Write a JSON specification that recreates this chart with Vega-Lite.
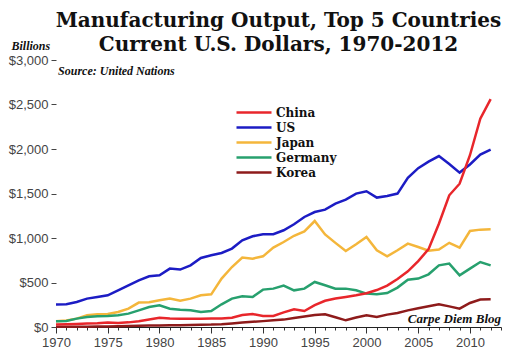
{
  "$schema": "https://vega.github.io/schema/vega-lite/v6.json",
  "width": 445,
  "height": 267,
  "autosize": {"type": "none"},
  "padding": {"left": 56, "top": 60, "right": 12, "bottom": 35},
  "background": "white",
  "config": {
    "view": {"stroke": null},
    "axisX": {
      "title": null,
      "tickCount": 43,
      "labelExpr": "datum.value % 5 === 0 ? '' + datum.value : ''",
      "labelOverlap": false,
      "labelFlush": false,
      "labelFont": "Liberation Sans",
      "labelFontSize": 13,
      "labelColor": "#444",
      "labelPadding": 3,
      "tickSize": 4,
      "tickColor": "#333",
      "tickWidth": 1,
      "domainColor": "#222",
      "domainWidth": 1.2,
      "grid": false
    },
    "axisY": {
      "titleAngle": 0,
      "titleFont": "Liberation Serif",
      "titleFontStyle": "italic",
      "titleFontWeight": "bold",
      "titleFontSize": 12,
      "titleColor": "#111",
      "titleAlign": "left",
      "titleBaseline": "alphabetic",
      "titleX": -45,
      "titleY": -11,
      "tickCount": 6,
      "labelFont": "Liberation Sans",
      "labelFontSize": 13,
      "labelColor": "#444",
      "labelPadding": 3,
      "tickSize": 5,
      "tickColor": "#444",
      "domain": false,
      "grid": false
    }
  },
  "title": {
    "text": ["Manufacturing Output, Top 5 Countries", "Current U.S. Dollars, 1970-2012"],
    "font": "DejaVu Serif",
    "fontWeight": "bold",
    "fontSize": 20,
    "lineHeight": 24,
    "color": "#111",
    "anchor": "middle",
    "frame": "group",
    "offset": 8,
    "dy": 24
  },
  "datasets": {
    "mfg": [
      {"year": 1970, "country": "US", "value": 252}, {"year": 1971, "country": "US", "value": 256}, {"year": 1972, "country": "US", "value": 281}, {"year": 1973, "country": "US", "value": 319}, {"year": 1974, "country": "US", "value": 337}, {"year": 1975, "country": "US", "value": 356}, {"year": 1976, "country": "US", "value": 412}, {"year": 1977, "country": "US", "value": 469}, {"year": 1978, "country": "US", "value": 525}, {"year": 1979, "country": "US", "value": 570}, {"year": 1980, "country": "US", "value": 581}, {"year": 1981, "country": "US", "value": 656}, {"year": 1982, "country": "US", "value": 645}, {"year": 1983, "country": "US", "value": 693}, {"year": 1984, "country": "US", "value": 775}, {"year": 1985, "country": "US", "value": 806}, {"year": 1986, "country": "US", "value": 832}, {"year": 1987, "country": "US", "value": 881}, {"year": 1988, "country": "US", "value": 974}, {"year": 1989, "country": "US", "value": 1019}, {"year": 1990, "country": "US", "value": 1042}, {"year": 1991, "country": "US", "value": 1042}, {"year": 1992, "country": "US", "value": 1087}, {"year": 1993, "country": "US", "value": 1154}, {"year": 1994, "country": "US", "value": 1236}, {"year": 1995, "country": "US", "value": 1292}, {"year": 1996, "country": "US", "value": 1319}, {"year": 1997, "country": "US", "value": 1386}, {"year": 1998, "country": "US", "value": 1431}, {"year": 1999, "country": "US", "value": 1499}, {"year": 2000, "country": "US", "value": 1525}, {"year": 2001, "country": "US", "value": 1454}, {"year": 2002, "country": "US", "value": 1472}, {"year": 2003, "country": "US", "value": 1499}, {"year": 2004, "country": "US", "value": 1675}, {"year": 2005, "country": "US", "value": 1785}, {"year": 2006, "country": "US", "value": 1858}, {"year": 2007, "country": "US", "value": 1921}, {"year": 2008, "country": "US", "value": 1832}, {"year": 2009, "country": "US", "value": 1735}, {"year": 2010, "country": "US", "value": 1826}, {"year": 2011, "country": "US", "value": 1937}, {"year": 2012, "country": "US", "value": 1993},
      {"year": 1970, "country": "Japan", "value": 64}, {"year": 1971, "country": "Japan", "value": 72}, {"year": 1972, "country": "Japan", "value": 94}, {"year": 1973, "country": "Japan", "value": 131}, {"year": 1974, "country": "Japan", "value": 143}, {"year": 1975, "country": "Japan", "value": 146}, {"year": 1976, "country": "Japan", "value": 169}, {"year": 1977, "country": "Japan", "value": 206}, {"year": 1978, "country": "Japan", "value": 274}, {"year": 1979, "country": "Japan", "value": 277}, {"year": 1980, "country": "Japan", "value": 300}, {"year": 1981, "country": "Japan", "value": 319}, {"year": 1982, "country": "Japan", "value": 296}, {"year": 1983, "country": "Japan", "value": 319}, {"year": 1984, "country": "Japan", "value": 356}, {"year": 1985, "country": "Japan", "value": 367}, {"year": 1986, "country": "Japan", "value": 544}, {"year": 1987, "country": "Japan", "value": 674}, {"year": 1988, "country": "Japan", "value": 780}, {"year": 1989, "country": "Japan", "value": 768}, {"year": 1990, "country": "Japan", "value": 794}, {"year": 1991, "country": "Japan", "value": 892}, {"year": 1992, "country": "Japan", "value": 955}, {"year": 1993, "country": "Japan", "value": 1025}, {"year": 1994, "country": "Japan", "value": 1075}, {"year": 1995, "country": "Japan", "value": 1191}, {"year": 1996, "country": "Japan", "value": 1040}, {"year": 1997, "country": "Japan", "value": 945}, {"year": 1998, "country": "Japan", "value": 854}, {"year": 1999, "country": "Japan", "value": 930}, {"year": 2000, "country": "Japan", "value": 1011}, {"year": 2001, "country": "Japan", "value": 862}, {"year": 2002, "country": "Japan", "value": 794}, {"year": 2003, "country": "Japan", "value": 862}, {"year": 2004, "country": "Japan", "value": 937}, {"year": 2005, "country": "Japan", "value": 899}, {"year": 2006, "country": "Japan", "value": 858}, {"year": 2007, "country": "Japan", "value": 870}, {"year": 2008, "country": "Japan", "value": 946}, {"year": 2009, "country": "Japan", "value": 892}, {"year": 2010, "country": "Japan", "value": 1079}, {"year": 2011, "country": "Japan", "value": 1094}, {"year": 2012, "country": "Japan", "value": 1098},
      {"year": 1970, "country": "Germany", "value": 64}, {"year": 1971, "country": "Germany", "value": 67}, {"year": 1972, "country": "Germany", "value": 94}, {"year": 1973, "country": "Germany", "value": 112}, {"year": 1974, "country": "Germany", "value": 120}, {"year": 1975, "country": "Germany", "value": 124}, {"year": 1976, "country": "Germany", "value": 131}, {"year": 1977, "country": "Germany", "value": 150}, {"year": 1978, "country": "Germany", "value": 187}, {"year": 1979, "country": "Germany", "value": 225}, {"year": 1980, "country": "Germany", "value": 244}, {"year": 1981, "country": "Germany", "value": 206}, {"year": 1982, "country": "Germany", "value": 195}, {"year": 1983, "country": "Germany", "value": 187}, {"year": 1984, "country": "Germany", "value": 169}, {"year": 1985, "country": "Germany", "value": 180}, {"year": 1986, "country": "Germany", "value": 255}, {"year": 1987, "country": "Germany", "value": 319}, {"year": 1988, "country": "Germany", "value": 345}, {"year": 1989, "country": "Germany", "value": 337}, {"year": 1990, "country": "Germany", "value": 420}, {"year": 1991, "country": "Germany", "value": 431}, {"year": 1992, "country": "Germany", "value": 465}, {"year": 1993, "country": "Germany", "value": 412}, {"year": 1994, "country": "Germany", "value": 431}, {"year": 1995, "country": "Germany", "value": 506}, {"year": 1996, "country": "Germany", "value": 469}, {"year": 1997, "country": "Germany", "value": 431}, {"year": 1998, "country": "Germany", "value": 431}, {"year": 1999, "country": "Germany", "value": 412}, {"year": 2000, "country": "Germany", "value": 375}, {"year": 2001, "country": "Germany", "value": 367}, {"year": 2002, "country": "Germany", "value": 382}, {"year": 2003, "country": "Germany", "value": 443}, {"year": 2004, "country": "Germany", "value": 532}, {"year": 2005, "country": "Germany", "value": 544}, {"year": 2006, "country": "Germany", "value": 592}, {"year": 2007, "country": "Germany", "value": 693}, {"year": 2008, "country": "Germany", "value": 712}, {"year": 2009, "country": "Germany", "value": 581}, {"year": 2010, "country": "Germany", "value": 656}, {"year": 2011, "country": "Germany", "value": 730}, {"year": 2012, "country": "Germany", "value": 693},
      {"year": 1970, "country": "Korea", "value": 2}, {"year": 1971, "country": "Korea", "value": 3}, {"year": 1972, "country": "Korea", "value": 3}, {"year": 1973, "country": "Korea", "value": 4}, {"year": 1974, "country": "Korea", "value": 5}, {"year": 1975, "country": "Korea", "value": 6}, {"year": 1976, "country": "Korea", "value": 8}, {"year": 1977, "country": "Korea", "value": 10}, {"year": 1978, "country": "Korea", "value": 13}, {"year": 1979, "country": "Korea", "value": 16}, {"year": 1980, "country": "Korea", "value": 17}, {"year": 1981, "country": "Korea", "value": 19}, {"year": 1982, "country": "Korea", "value": 20}, {"year": 1983, "country": "Korea", "value": 22}, {"year": 1984, "country": "Korea", "value": 25}, {"year": 1985, "country": "Korea", "value": 27}, {"year": 1986, "country": "Korea", "value": 32}, {"year": 1987, "country": "Korea", "value": 40}, {"year": 1988, "country": "Korea", "value": 50}, {"year": 1989, "country": "Korea", "value": 58}, {"year": 1990, "country": "Korea", "value": 66}, {"year": 1991, "country": "Korea", "value": 76}, {"year": 1992, "country": "Korea", "value": 83}, {"year": 1993, "country": "Korea", "value": 100}, {"year": 1994, "country": "Korea", "value": 118}, {"year": 1995, "country": "Korea", "value": 135}, {"year": 1996, "country": "Korea", "value": 143}, {"year": 1997, "country": "Korea", "value": 110}, {"year": 1998, "country": "Korea", "value": 75}, {"year": 1999, "country": "Korea", "value": 106}, {"year": 2000, "country": "Korea", "value": 131}, {"year": 2001, "country": "Korea", "value": 112}, {"year": 2002, "country": "Korea", "value": 139}, {"year": 2003, "country": "Korea", "value": 157}, {"year": 2004, "country": "Korea", "value": 187}, {"year": 2005, "country": "Korea", "value": 210}, {"year": 2006, "country": "Korea", "value": 232}, {"year": 2007, "country": "Korea", "value": 255}, {"year": 2008, "country": "Korea", "value": 232}, {"year": 2009, "country": "Korea", "value": 206}, {"year": 2010, "country": "Korea", "value": 270}, {"year": 2011, "country": "Korea", "value": 308}, {"year": 2012, "country": "Korea", "value": 311},
      {"year": 1970, "country": "China", "value": 28}, {"year": 1971, "country": "China", "value": 30}, {"year": 1972, "country": "China", "value": 33}, {"year": 1973, "country": "China", "value": 38}, {"year": 1974, "country": "China", "value": 42}, {"year": 1975, "country": "China", "value": 50}, {"year": 1976, "country": "China", "value": 45}, {"year": 1977, "country": "China", "value": 52}, {"year": 1978, "country": "China", "value": 65}, {"year": 1979, "country": "China", "value": 85}, {"year": 1980, "country": "China", "value": 105}, {"year": 1981, "country": "China", "value": 95}, {"year": 1982, "country": "China", "value": 92}, {"year": 1983, "country": "China", "value": 92}, {"year": 1984, "country": "China", "value": 92}, {"year": 1985, "country": "China", "value": 95}, {"year": 1986, "country": "China", "value": 95}, {"year": 1987, "country": "China", "value": 105}, {"year": 1988, "country": "China", "value": 135}, {"year": 1989, "country": "China", "value": 145}, {"year": 1990, "country": "China", "value": 125}, {"year": 1991, "country": "China", "value": 125}, {"year": 1992, "country": "China", "value": 165}, {"year": 1993, "country": "China", "value": 200}, {"year": 1994, "country": "China", "value": 180}, {"year": 1995, "country": "China", "value": 245}, {"year": 1996, "country": "China", "value": 295}, {"year": 1997, "country": "China", "value": 320}, {"year": 1998, "country": "China", "value": 337}, {"year": 1999, "country": "China", "value": 356}, {"year": 2000, "country": "China", "value": 380}, {"year": 2001, "country": "China", "value": 415}, {"year": 2002, "country": "China", "value": 465}, {"year": 2003, "country": "China", "value": 540}, {"year": 2004, "country": "China", "value": 625}, {"year": 2005, "country": "China", "value": 740}, {"year": 2006, "country": "China", "value": 875}, {"year": 2007, "country": "China", "value": 1160}, {"year": 2008, "country": "China", "value": 1480}, {"year": 2009, "country": "China", "value": 1610}, {"year": 2010, "country": "China", "value": 1930}, {"year": 2011, "country": "China", "value": 2340}, {"year": 2012, "country": "China", "value": 2560}
    ]
  },
  "layer": [
    {
      "data": {"name": "mfg"},
      "mark": {"type": "line", "strokeWidth": 2.5},
      "encoding": {
        "x": {
          "field": "year",
          "type": "quantitative",
          "scale": {"domain": [1970, 2013], "nice": false, "zero": false},
          "axis": {"tickSize": {"condition": {"test": "datum.value % 5 === 0", "value": 6}, "value": 3}}
        },
        "y": {
          "field": "value",
          "type": "quantitative",
          "scale": {"domain": [0, 3000], "nice": false},
          "axis": {"title": "Billions", "format": "$,.0f"}
        },
        "color": {
          "field": "country",
          "type": "nominal",
          "scale": {
            "domain": ["China", "US", "Japan", "Germany", "Korea"],
            "range": ["#e8262b", "#1c1cc4", "#f4b63b", "#27a06e", "#8e1b1b"]
          },
          "legend": {
            "title": null,
            "orient": "none",
            "legendX": 179,
            "legendY": 45,
            "symbolType": "stroke",
            "symbolSize": 1225,
            "symbolStrokeWidth": 2.5,
            "clipHeight": 15,
            "rowPadding": 0,
            "labelFont": "DejaVu Serif",
            "labelFontWeight": "bold",
            "labelFontSize": 12,
            "labelColor": "#111",
            "labelOffset": 3
          }
        }
      }
    },
    {
      "data": {"values": [{"label": "Source: United Nations"}]},
      "mark": {"type": "text", "font": "Liberation Serif", "fontStyle": "italic", "fontWeight": "bold", "fontSize": 12, "align": "left", "baseline": "alphabetic", "color": "#111"},
      "encoding": {
        "x": {"datum": 1970.2, "type": "quantitative", "axis": {"tickSize": {"condition": {"test": "datum.value % 5 === 0", "value": 6}, "value": 3}}},
        "y": {"datum": 2830, "type": "quantitative", "axis": {"title": "Billions", "format": "$,.0f"}},
        "text": {"field": "label", "type": "nominal"}
      }
    },
    {
      "data": {"values": [{"label": "Carpe Diem Blog"}]},
      "mark": {"type": "text", "font": "Liberation Serif", "fontStyle": "italic", "fontWeight": "bold", "fontSize": 13, "align": "right", "baseline": "alphabetic", "color": "#111"},
      "encoding": {
        "x": {"datum": 2013, "type": "quantitative", "axis": {"tickSize": {"condition": {"test": "datum.value % 5 === 0", "value": 6}, "value": 3}}},
        "y": {"datum": 50, "type": "quantitative", "axis": {"title": "Billions", "format": "$,.0f"}},
        "text": {"field": "label", "type": "nominal"}
      }
    }
  ]
}
